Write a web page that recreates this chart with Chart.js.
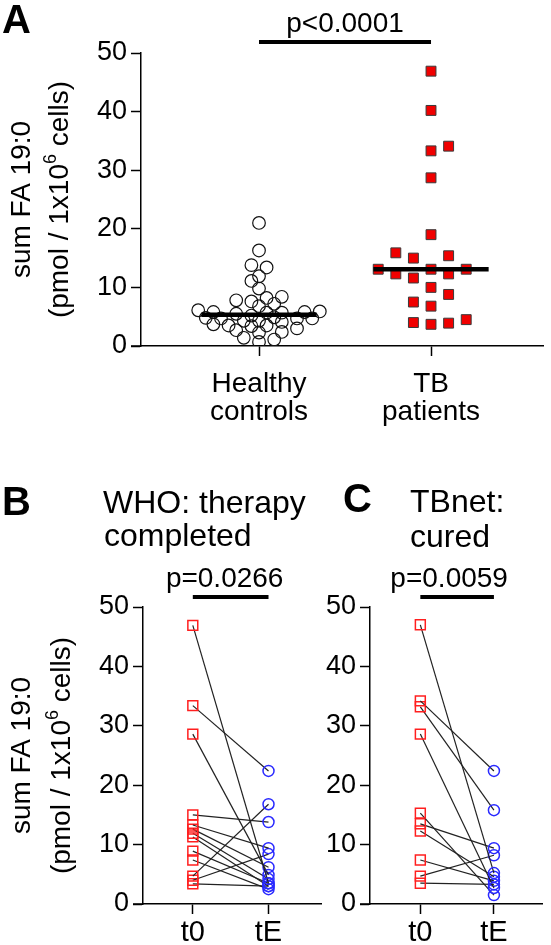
<!DOCTYPE html>
<html>
<head>
<meta charset="utf-8">
<script src="https://cdn.jsdelivr.net/npm/chart.js@4.4.1/dist/chart.umd.min.js"></script>
<style>
  html, body { margin: 0; padding: 0; background: #fff; }
  body { width: 551px; height: 945px; position: relative; overflow: hidden; }
  .panel { position: absolute; }
</style>
</head>
<body>
<div class="panel" style="left:0;top:0;width:551px;height:440px"><canvas id="chartA"></canvas></div>
<div class="panel" style="left:0;top:460px;width:330px;height:485px"><canvas id="chartB"></canvas></div>
<div class="panel" style="left:280px;top:460px;width:271px;height:485px"><canvas id="chartC"></canvas></div>
<script>
const FONT = '"Liberation Sans", Arial, sans-serif';

// --- panel A: sum FA 19:0 per group
const groupLabels = [['Healthy', 'controls'], ['TB', 'patients']];
const healthyControls = [
  21.0, 16.3, 13.4, 13.8, 11.9, 11.1, 9.8, 8.4, 8.2, 7.6,
  7.8, 7.2, 6.8, 6.1, 5.8, 5.7, 5.7, 5.8, 5.9, 5.5,
  4.7, 4.9, 5.2, 4.8, 4.7, 4.3, 4.3, 4.7, 4.1, 3.4,
  3.5, 3.7, 3.5, 3.0, 2.7, 2.3, 2.4, 1.4, 1.1, 0.7
];
const tbPatients = [
  46.9, 40.2, 33.3, 34.1, 28.7, 19.0, 15.9, 15.0, 15.4, 13.1,
  13.1, 13.1, 12.3, 12.3, 11.6, 10.0, 8.8, 7.5, 6.8, 4.5,
  3.7, 3.9, 4.0
];
const pValueA = 'p<0.0001';

// --- panel B / C: paired t0 -> tE
const timeLabels = ['t0', 'tE'];
const whoT0 = [46.9, 33.4, 28.6, 15.0, 13.3, 12.6, 11.9, 11.3, 8.9, 7.4, 4.7, 4.0, 3.4];
const whoTE = [3.5, 22.4, 4.9, 13.8, 9.4, 6.2, 4.2, 3.0, 3.5, 2.5, 16.8, 8.4, 3.0];
const pValueB = 'p=0.0266';

const tbnetT0 = [47.0, 34.2, 33.2, 28.6, 15.3, 13.5, 12.3, 7.4, 4.7, 3.5];
const tbnetTE = [5.2, 22.4, 15.8, 2.7, 1.5, 9.4, 4.6, 3.9, 8.2, 3.3];
const pValueC = 'p=0.0059';

const yTitle = ['sum FA 19:0', ['(pmol / 1x10', '6', ' cells)']];

function median(arr) {
  const s = arr.slice().sort((a, b) => a - b);
  const m = Math.floor(s.length / 2);
  return s.length % 2 ? s[m] : (s[m - 1] + s[m]) / 2;
}

// greedy beeswarm in pixel space, returns x offsets in px
function swarm(pys, gridPx, minDist) {
  const order = pys.map((v, i) => i).sort((a, b) => pys[b] - pys[a]);
  const placed = [];
  const out = new Array(pys.length);
  order.forEach(i => {
    const py = pys[i];
    const free = dx => placed.every(p => Math.hypot(p.x - dx, p.y - py) >= minDist);
    for (let k = 0; k < 60; k++) {
      if (k === 0) {
        if (free(0)) { out[i] = 0; break; }
        continue;
      }
      const bal = placed.reduce((s, p) => s + Math.sign(p.x), 0);
      const cands = bal > 0 ? [-k * gridPx, k * gridPx] : [k * gridPx, -k * gridPx];
      const hit = cands.find(free);
      if (hit !== undefined) { out[i] = hit; break; }
    }
    placed.push({ x: out[i], y: py });
  });
  return out;
}

const figText = {
  id: 'figText',
  afterDraw(chart, args, opts) {
    const ctx = chart.ctx;
    const { left, top, bottom } = chart.chartArea;
    ctx.save();
    ctx.fillStyle = '#000';
    ctx.strokeStyle = '#000';
    ctx.textBaseline = 'alphabetic';
    (opts.labels || []).forEach(l => {
      ctx.font = l.font;
      ctx.textAlign = 'left';
      ctx.fillText(l.text, l.x, l.y);
    });
    if (opts.p) {
      const xs = chart.scales.x;
      const x1 = xs.getPixelForValue(1), x2 = xs.getPixelForValue(2);
      ctx.lineWidth = 4;
      ctx.beginPath();
      ctx.moveTo(x1, top - opts.p.barGap);
      ctx.lineTo(x2, top - opts.p.barGap);
      ctx.stroke();
      ctx.font = opts.p.font;
      ctx.textAlign = 'center';
      ctx.fillText(opts.p.text, (x1 + x2) / 2 + (opts.p.dx || 0), top - opts.p.textGap);
    }
    if (opts.yTitle) {
      const cy = (top + bottom) / 2;
      const size = opts.yTitle.size;
      opts.yTitle.lines.forEach((line, li) => {
        const parts = Array.isArray(line) ? line : [line];
        const fonts = parts.map((t, pi) => (pi === 1 ? Math.round(size * 0.66) : size) + 'px ' + FONT);
        const widths = parts.map((t, pi) => { ctx.font = fonts[pi]; return ctx.measureText(t).width; });
        const total = widths.reduce((a, b) => a + b, 0);
        ctx.save();
        ctx.translate(opts.yTitle.x[li], cy);
        ctx.rotate(-Math.PI / 2);
        ctx.textAlign = 'left';
        let x = -total / 2;
        parts.forEach((t, pi) => {
          ctx.font = fonts[pi];
          ctx.fillText(t, x, pi === 1 ? -size * 0.42 : 0);
          x += widths[pi];
        });
        ctx.restore();
      });
    }
    // x axis runs out under the y ticks
    ctx.lineWidth = 1.5;
    ctx.beginPath();
    ctx.moveTo(left - 10, bottom);
    ctx.lineTo(left, bottom);
    ctx.stroke();
    ctx.restore();
  }
};

function axes(xMin, xMax, xLabels, yWidth, xHeight, xFont, xPad) {
  const grid = { display: true, drawOnChartArea: false, drawTicks: true, tickLength: 10, color: '#000', tickColor: '#000', tickWidth: 1.5 };
  const border = { display: true, color: '#000', width: 1.5 };
  return {
    x: {
      type: 'linear', min: xMin, max: xMax,
      afterBuildTicks: s => { s.ticks = [{ value: 1 }, { value: 2 }]; },
      afterFit: s => { s.height = xHeight; },
      ticks: {
        autoSkip: false, maxRotation: 0, color: '#000', padding: xPad,
        font: { family: FONT, size: xFont, lineHeight: 1 },
        callback: (v, i) => xLabels[i]
      },
      grid, border
    },
    y: {
      min: 0, max: 50,
      afterFit: s => { s.width = yWidth; },
      ticks: { stepSize: 10, color: '#000', padding: 4, font: { family: FONT, size: 27 } },
      grid, border
    }
  };
}

const common = {
  responsive: true,
  maintainAspectRatio: false,
  animation: false,
  events: []
};

// ---------- panel A
const medHalf = 0.335;
const chartA = new Chart(document.getElementById('chartA'), {
  type: 'scatter',
  data: {
    datasets: [
      {
        type: 'line',
        data: [{ x: 1 - medHalf, y: median(healthyControls) }, { x: 1 + medHalf, y: median(healthyControls) }],
        borderColor: '#000', borderWidth: 4.5, pointRadius: 0
      },
      {
        type: 'line',
        data: [{ x: 2 - medHalf, y: median(tbPatients) }, { x: 2 + medHalf, y: median(tbPatients) }],
        borderColor: '#000', borderWidth: 4.5, pointRadius: 0
      },
      {
        data: tbPatients.map(v => ({ x: 2, y: v })),
        pointStyle: 'rect', pointRadius: 7, backgroundColor: '#f00000',
        borderColor: '#3a3a3a', borderWidth: 1
      },
      {
        data: healthyControls.map(v => ({ x: 1, y: v })),
        pointStyle: 'circle', pointRadius: 6.3, backgroundColor: 'rgba(0,0,0,0)',
        borderColor: '#111', borderWidth: 1.2
      }
    ]
  },
  options: {
    ...common,
    layout: { padding: { left: 0, right: 8, top: 53, bottom: 0 } },
    scales: axes(0.314, 2.651, groupLabels, 141, 94, 28, 14),
    plugins: {
      legend: { display: false }, tooltip: { enabled: false },
      figText: {
        labels: [{ text: 'A', x: 2, y: 33, font: 'bold 40px ' + FONT }],
        p: { text: pValueA, barGap: 11, textGap: 21, font: '28px ' + FONT },
        yTitle: { lines: yTitle, x: [30, 68], size: 28 }
      }
    }
  },
  plugins: [figText]
});

function spread(chart, dsIndex, values, centre, gridPx, minDist) {
  const xs = chart.scales.x, ys = chart.scales.y;
  const pxPerX = xs.getPixelForValue(2) - xs.getPixelForValue(1);
  const off = swarm(values.map(v => ys.getPixelForValue(v)), gridPx, minDist);
  chart.data.datasets[dsIndex].data = values.map((v, i) => ({ x: centre + off[i] / pxPerX, y: v }));
}
spread(chartA, 2, tbPatients, 2, 8.8, 17);
spread(chartA, 3, healthyControls, 1, 7.6, 8.8);
chartA.update('none');

// ---------- panels B and C
function pairedSets(t0, tE) {
  return t0.map((v, i) => ({
    data: [{ x: 1, y: v }, { x: 2, y: tE[i] }],
    showLine: true,
    borderColor: '#222', borderWidth: 1.2,
    pointStyle: ['rect', 'circle'],
    pointRadius: [7, 5.5],
    pointBorderColor: ['#ff1f1f', '#2a2aff'],
    pointBackgroundColor: 'rgba(0,0,0,0)',
    pointBorderWidth: 1.5
  }));
}

new Chart(document.getElementById('chartB'), {
  type: 'scatter',
  data: { datasets: pairedSets(whoT0, whoTE) },
  options: {
    ...common,
    layout: { padding: { left: 0, right: 8, top: 147, bottom: 0 } },
    scales: axes(0.342, 2.70, timeLabels, 143, 41, 29, 4),
    plugins: {
      legend: { display: false }, tooltip: { enabled: false },
      figText: {
        labels: [
          { text: 'B', x: 2, y: 55, font: 'bold 40px ' + FONT },
          { text: 'WHO: therapy', x: 103, y: 53, font: '32px ' + FONT },
          { text: 'completed', x: 104, y: 86, font: '32px ' + FONT }
        ],
        p: { text: pValueB, barGap: 10, textGap: 20, dx: -6, font: '28px ' + FONT },
        yTitle: { lines: yTitle, x: [30, 70], size: 28 }
      }
    }
  },
  plugins: [figText]
});

new Chart(document.getElementById('chartC'), {
  type: 'scatter',
  data: { datasets: pairedSets(tbnetT0, tbnetTE) },
  options: {
    ...common,
    layout: { padding: { left: 0, right: 3, top: 147, bottom: 0 } },
    scales: axes(0.316, 2.66, timeLabels, 90, 41, 29, 4),
    plugins: {
      legend: { display: false }, tooltip: { enabled: false },
      figText: {
        labels: [
          { text: 'C', x: 63, y: 52, font: 'bold 40px ' + FONT },
          { text: 'TBnet:', x: 130, y: 52, font: '32px ' + FONT },
          { text: 'cured', x: 130, y: 87, font: '32px ' + FONT }
        ],
        p: { text: pValueC, barGap: 10, textGap: 20, dx: -8, font: '28px ' + FONT }
      }
    }
  },
  plugins: [figText]
});
</script>
</body>
</html>
